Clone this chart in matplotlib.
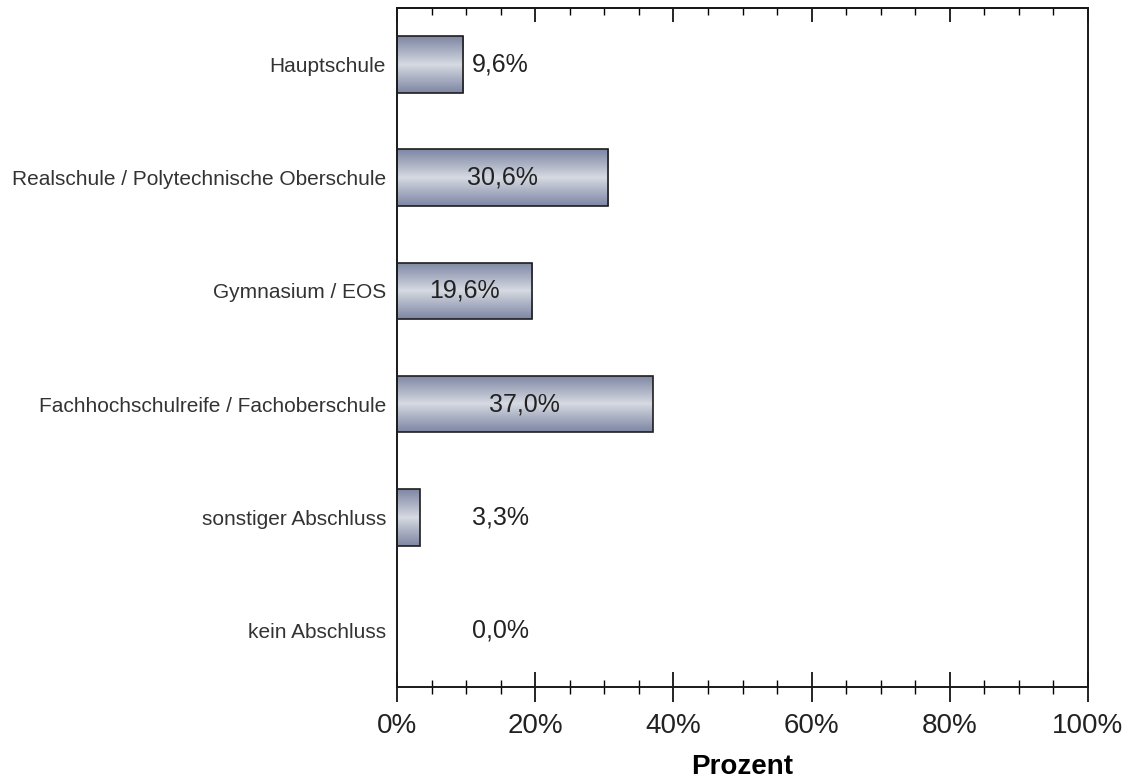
"""Schulabschluss chart"""

import matplotlib
matplotlib.use("Agg")
import matplotlib.pyplot as plt
import numpy as np
from matplotlib.colors import LinearSegmentedColormap
from matplotlib.ticker import MultipleLocator

categories = [
    "Hauptschule",
    "Realschule / Polytechnische Oberschule",
    "Gymnasium / EOS",
    "Fachhochschulreife / Fachoberschule",
    "sonstiger Abschluss",
    "kein Abschluss",
]
values = [9.6, 30.6, 19.6, 37.0, 3.3, 0.0]
value_labels = ["9,6%", "30,6%", "19,6%", "37,0%", "3,3%", "0,0%"]
x_ticks = [0, 20, 40, 60, 80, 100]
x_tick_labels = ["0%", "20%", "40%", "60%", "80%", "100%"]

plt.rcParams["font.family"] = ["Liberation Sans", "DejaVu Sans"]

fig = plt.figure(figsize=(11.3, 7.84), dpi=100)
ax = fig.add_axes([397 / 1130, 1 - 687 / 784, 691 / 1130, 679 / 784])

y = np.arange(len(categories))
bars = ax.barh(y, values, height=0.5, facecolor="none", edgecolor="#1e1e1e",
               linewidth=1.2, zorder=3)

# metallic gradient: dark at edges, light in the middle
cmap = LinearSegmentedColormap.from_list(
    "metal", ["#7d86a3", "#a9afc2", "#d6dae2", "#a9afc2", "#7d86a3"])
grad = np.linspace(0, 1, 256).reshape(-1, 1)
for bar in bars:
    x0, y0 = bar.get_x(), bar.get_y()
    w, h = bar.get_width(), bar.get_height()
    if w <= 0:
        continue
    im = ax.imshow(grad, cmap=cmap, aspect="auto",
                   extent=[x0, x0 + w, y0, y0 + h], zorder=2)
    im.set_clip_path(bar)

for yi, v, lab in zip(y, values, value_labels):
    xpos = v / 2 if v >= 15 else 15
    ax.text(xpos, yi, lab, ha="center", va="center", fontsize=18,
            color="#222222", zorder=4)

ax.set_xlim(0, 100)
ax.set_ylim(len(categories) - 0.5, -0.5)
ax.set_yticks(y)
ax.set_yticklabels(categories, fontsize=15, color="#333333")
ax.tick_params(axis="y", length=0, pad=8)

ax.set_xticks(x_ticks)
ax.set_xticklabels(x_tick_labels, fontsize=20, color="#222222")
ax.xaxis.set_minor_locator(MultipleLocator(5))
ax.tick_params(axis="x", which="major", direction="inout", length=21,
               width=1.2, pad=8)
ax.tick_params(axis="x", which="minor", direction="inout", length=10,
               width=1.0)

# top ticks point inward only
top = ax.secondary_xaxis("top")
top.set_xticks(x_ticks)
top.xaxis.set_minor_locator(MultipleLocator(5))
top.tick_params(which="major", direction="in", length=10, width=1.2,
                labeltop=False)
top.tick_params(which="minor", direction="in", length=5, width=1.0)
top.spines["top"].set_linewidth(1.4)

for spine in ax.spines.values():
    spine.set_linewidth(1.4)
    spine.set_color("#1a1a1a")

ax.set_xlabel("Prozent", fontsize=20, fontweight="bold")
ax.xaxis.set_label_coords(0.5, -0.098)

fig.savefig("out.png", dpi=100)
